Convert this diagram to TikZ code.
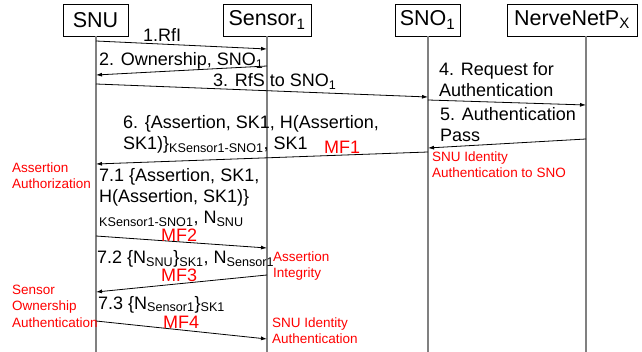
\documentclass[tikz,border=0pt]{standalone}
\usepackage{fontspec}
\setmainfont{Liberation Sans}
\usetikzlibrary{arrows.meta}
\definecolor{lifegray}{RGB}{128,128,128}
\newcommand{\subidx}[1]{\textsubscript{#1}}
\tikzstyle{actor} = [rectangle, draw, fill=white, line width=0.8pt,
    minimum height=32pt, inner sep=0pt, font=\fontsize{21.5}{24}\selectfont]
\tikzstyle{lifeline} = [draw=lifegray, line width=1.6pt]
\tikzstyle{msg} = [draw, line width=0.8pt, ->]
% multi-line texts sit on the baseline of their last line
\tikzstyle{msgtext} = [anchor=base west, inner sep=0pt, align=left,
    font=\fontsize{18}{21}\selectfont]
\tikzstyle{note} = [anchor=base west, inner sep=0pt, align=left, text=red,
    font=\fontsize{13.5}{16.5}\selectfont]
\tikzstyle{mf} = [anchor=base west, inner sep=0pt, text=red,
    font=\fontsize{18}{21}\selectfont]

\begin{document}
\begin{tikzpicture}[x=1pt, y=-1pt, >={Latex[length=6pt,width=4pt]}]
    \useasboundingbox (0,0) rectangle (642,352);

    % Lifeline ends
    \coordinate (snuEnd) at (96,352);
    \coordinate (sensorEnd) at (267,352);
    \coordinate (snoEnd) at (428,352);
    \coordinate (nnpEnd) at (586,352);

    % Nodes
    \node [actor, minimum width=65pt] (snu) at (95.5,20) {SNU};
    \node [actor, minimum width=88pt] (sensor) at (267,20) {Sensor\subidx{1}};
    \node [actor, minimum width=65pt] (sno) at (427.5,20) {SNO\subidx{1}};
    \node [actor, minimum width=130pt] (nnp) at (572,20) {NerveNetP\subidx{X}};

    \draw [lifeline] (snu.south -| snuEnd) -- (snuEnd);
    \draw [lifeline] (sensor.south -| sensorEnd) -- (sensorEnd);
    \draw [lifeline] (sno.south -| snoEnd) -- (snoEnd);
    \draw [lifeline] (nnp.south -| nnpEnd) -- (nnpEnd);

    % Message end points
    \coordinate (m1a) at (96,41);   \coordinate (m1b) at (267,49);
    \coordinate (m2a) at (267,66);  \coordinate (m2b) at (96,75);
    \coordinate (m3a) at (96,84);   \coordinate (m3b) at (428,97);
    \coordinate (m4a) at (428,100); \coordinate (m4b) at (586,105);
    \coordinate (m5a) at (586,139); \coordinate (m5b) at (428,148);
    \coordinate (m6a) at (428,152); \coordinate (m6b) at (96,164);
    \coordinate (m7a) at (96,236);  \coordinate (m7b) at (267,248);
    \coordinate (m8a) at (267,275); \coordinate (m8b) at (96,292);
    \coordinate (m9a) at (96,321);  \coordinate (m9b) at (267,339);

    % Connections
    \draw [msg] (m1a) -- (m1b);
    \draw [msg] (m2a) -- (m2b);
    \draw [msg] (m3a) -- (m3b);
    \draw [msg] (m4a) -- (m4b);
    \draw [msg] (m5a) -- (m5b);
    \draw [msg] (m6a) -- (m6b);
    \draw [msg] (m7a) -- (m7b);
    \draw [msg] (m8a) -- (m8b);
    \draw [msg] (m9a) -- (m9b);

    % Message labels
    \node [msgtext] (t1) at (143,41.5) {1.RfI};
    \node [msgtext] (t2) at (99,66) {2. Ownership, SNO\subidx{1}};
    \node [msgtext] (t3) at (213,87) {3. RfS to SNO\subidx{1}};
    \node [msgtext] (t4) at (439,96.5) {4. Request for\\Authentication};
    \node [msgtext] (t5) at (440,142) {5. Authentication\\Pass};
    \node [msgtext] (t6) at (123,150)
        {6. \{Assertion, SK1, H(Assertion,\\SK1)\}\subidx{KSensor1-SNO1}, SK1};
    \node [msgtext] (t71) at (99,224)
        {7.1 \{Assertion, SK1,\\H(Assertion, SK1)\}\\\subidx{KSensor1-SNO1}, N\subidx{SNU}};
    \node [msgtext] (t72) at (97,264)
        {7.2 \{N\subidx{SNU}\}\subidx{SK1}, N\subidx{Sensor1}};
    \node [msgtext] (t73) at (98,309) {7.3 \{N\subidx{Sensor1}\}\subidx{SK1}};

    \node [mf] (mf1) at (324,154) {MF1};
    \node [mf] (mf2) at (161,242) {MF2};
    \node [mf] (mf3) at (161,282) {MF3};
    \node [mf] (mf4) at (163,328) {MF4};

    % Notes
    \node [note] (n1) at (432,178) {SNU Identity\\Authentication to SNO};
    \node [note] (n2) at (12,189) {Assertion\\Authorization};
    \node [note] (n3) at (273,278) {Assertion\\Integrity};
    \node [note] (n4) at (12,327) {Sensor\\Ownership\\Authentication};
    \node [note] (n5) at (272,344) {SNU Identity\\Authentication};

\end{tikzpicture}
\end{document}
